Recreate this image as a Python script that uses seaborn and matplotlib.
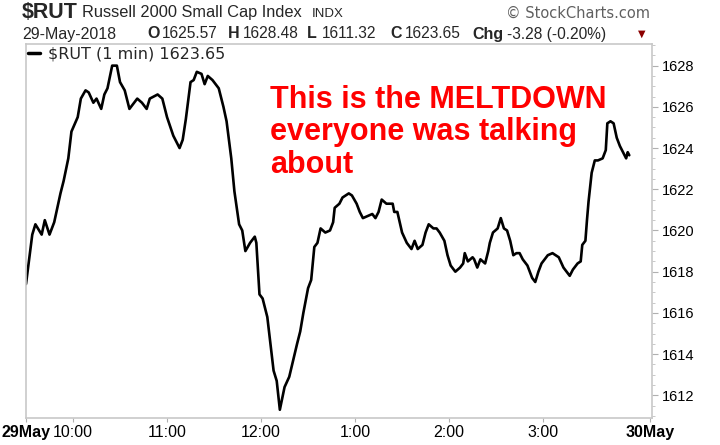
import numpy as np
import pandas as pd
import seaborn as sns
import matplotlib.pyplot as plt
from matplotlib.ticker import MultipleLocator

# minutes after 9:30 open, 1-min closes
minutes = [0, 4, 6, 10, 12, 15, 18, 22, 24, 27, 29, 33, 35, 38, 40, 43, 45, 48, 50, 52,
           55, 58, 60, 63, 66, 71, 74, 77, 79, 84, 87, 90, 94, 98, 100, 102, 105, 107, 109, 112,
           114, 116, 119, 123, 126, 128, 131, 133, 136, 138, 140, 143, 146, 147, 149, 151, 154, 156, 158, 160,
           162, 165, 168, 173, 175, 177, 180, 182, 184, 186, 188, 191, 194, 196, 197, 200, 202, 206, 208, 211,
           213, 215, 218, 221, 223, 225, 227, 230, 234, 235, 237, 240, 243, 246, 248, 250, 253, 255, 257, 260,
           262, 264, 267, 269, 271, 274, 277, 279, 280, 282, 285, 286, 288, 290, 293, 295, 296, 298, 301, 303,
           305, 307, 309, 311, 313, 315, 317, 320, 323, 325, 327, 329, 331, 333, 336, 340, 343, 345, 347, 349,
           352, 354, 355, 357, 358, 359, 361, 363, 365, 368, 370, 371, 373, 375, 377, 379, 381, 383, 384, 385]
prices = [1617.4, 1619.8, 1620.3, 1619.8, 1620.5, 1619.8, 1620.4, 1621.8, 1622.4, 1623.5,
          1624.8, 1625.5, 1626.4, 1626.8, 1626.7, 1626.2, 1626.4, 1625.9, 1626.6, 1626.9,
          1628.0, 1628.0, 1627.2, 1626.8, 1625.9, 1626.4, 1626.2, 1625.9, 1626.4, 1626.6,
          1626.4, 1625.5, 1624.6, 1624.0, 1624.4, 1625.4, 1627.2, 1627.3, 1627.7, 1627.6,
          1627.1, 1627.5, 1627.3, 1626.9, 1626.0, 1625.3, 1623.5, 1621.9, 1620.3, 1620.0,
          1619.0, 1619.4, 1619.7, 1619.4, 1616.9, 1616.7, 1615.8, 1614.5, 1613.2, 1612.7,
          1611.3, 1612.4, 1612.9, 1614.5, 1615.1, 1616.0, 1617.2, 1617.6, 1619.2, 1619.4,
          1620.1, 1619.9, 1620.0, 1620.4, 1621.1, 1621.3, 1621.6, 1621.8, 1621.7, 1621.3,
          1620.9, 1620.6, 1620.7, 1620.8, 1620.6, 1620.9, 1621.5, 1621.3, 1621.3, 1620.9,
          1620.9, 1619.9, 1619.4, 1619.1, 1619.5, 1619.1, 1619.3, 1619.9, 1620.3, 1620.1,
          1620.1, 1619.9, 1619.5, 1618.8, 1618.3, 1618.0, 1618.2, 1618.4, 1618.9, 1618.5,
          1618.7, 1618.6, 1618.2, 1618.6, 1618.4, 1619.0, 1619.4, 1619.9, 1620.1, 1620.6,
          1620.1, 1620.0, 1619.5, 1618.8, 1618.9, 1618.9, 1618.6, 1618.3, 1617.7, 1617.5,
          1618.0, 1618.4, 1618.6, 1618.8, 1618.9, 1618.7, 1618.2, 1618.0, 1617.8, 1618.1,
          1618.4, 1618.5, 1619.3, 1619.5, 1620.5, 1621.4, 1622.8, 1623.4, 1623.4, 1623.5,
          1623.9, 1625.2, 1625.3, 1625.2, 1624.5, 1624.1, 1623.8, 1623.5, 1623.8, 1623.65]

tick_pos = [0, 30, 90, 150, 210, 270, 330, 398]
tick_labels = ["29May", "10:00", "11:00", "12:00", "1:00", "2:00", "3:00", "30May"]
y_ticks = [1612, 1614, 1616, 1618, 1620, 1622, 1624, 1626, 1628]

sns.set_theme(style="white")
plt.rcParams['font.family'] = ['Liberation Sans', 'DejaVu Sans']

fig = plt.figure(figsize=(7.2, 4.45), dpi=100)
ax = fig.add_axes([26 / 720, 27 / 445, 626 / 720, 374 / 445])

df = pd.DataFrame({"minute": minutes, "price": prices})
sns.lineplot(data=df, x="minute", y="price", color="black", linewidth=1.9,
             label="$RUT (1 min) 1623.65", ax=ax)

ax.set_xlim(0, 399.5)
ax.set_ylim(1610.9, 1629.05)
ax.set_xlabel("")
ax.set_ylabel("")

ax.yaxis.tick_right()
ax.set_yticks(y_ticks)
ax.set_yticklabels([str(v) for v in y_ticks], fontsize=10.5, color="black")
ax.yaxis.set_minor_locator(MultipleLocator(0.5))
ax.tick_params(axis="y", which="major", right=True, length=4, width=0.8, color="#b0b0b0", pad=3)
ax.tick_params(axis="y", which="minor", right=True, length=2, width=0.6, color="#c0c0c0")

ax.set_xticks(tick_pos)
ax.set_xticklabels(tick_labels, fontsize=11.5, color="black")
ax.tick_params(axis="x", bottom=True, length=3, width=0.8, color="#b0b0b0", pad=2)
for lab in ax.get_xticklabels():
    if "May" in lab.get_text():
        lab.set_fontweight("bold")

for s in ax.spines.values():
    s.set_color("#c8c8c8")
    s.set_linewidth(1.2)

leg = ax.legend(loc="upper left", frameon=False, handlelength=0.7, handletextpad=0.5,
                borderaxespad=0.0, borderpad=0.15,
                prop={"family": "DejaVu Sans", "size": 11.5})
for h in leg.get_lines():
    h.set_linewidth(2.5)

ax.text(0.39, 0.89, "This is the MELTDOWN\neveryone was talking\nabout",
        transform=ax.transAxes, color="#ff0000", fontsize=22, fontweight="bold",
        va="top", ha="left", linespacing=1.1)

# header
def px(x, y):
    return x / 720, 1 - y / 445

fig.text(*px(22, 13), "$RUT", fontsize=15.5, fontweight="bold", va="center")
fig.text(*px(82, 13), "Russell 2000 Small Cap Index", fontsize=11.8, va="center")
fig.text(*px(312, 14), "INDX", fontsize=9.5, va="center")
fig.text(*px(650, 13), "\u00a9 StockCharts.com", fontsize=10.5, color="#606060",
         va="center", ha="right", family="DejaVu Sans")

y2 = 34
fig.text(*px(22, y2), "29-May-2018", fontsize=11.5, va="center")
items = [(147, "O", "1625.57"), (228, "H", "1628.48"), (307, "L", "1611.32"),
         (390, "C", "1623.65")]
for x0, k, v in items:
    fig.text(*px(x0, y2), k, fontsize=11.5, fontweight="bold", va="center")
    fig.text(*px(x0 + 15, y2), v, fontsize=11.2, va="center")
fig.text(*px(472, y2), "Chg", fontsize=11.5, fontweight="bold", va="center")
fig.text(*px(507, y2), "-3.28 (-0.20%)", fontsize=11.2, va="center")
fig.text(*px(638, y2), "\u25bc", fontsize=7, color="#8b0000", va="center", family="DejaVu Sans")

fig.savefig("out.png", dpi=100)
